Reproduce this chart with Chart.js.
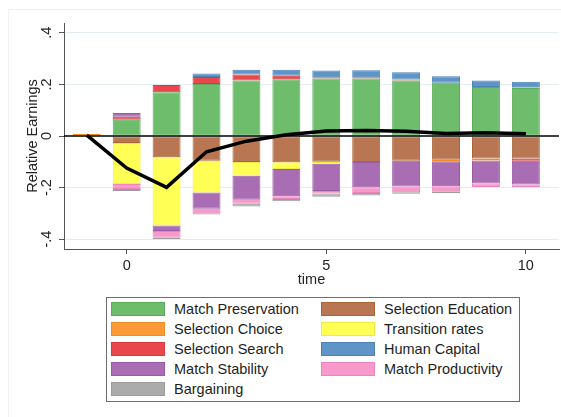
<!DOCTYPE html>
<html>
<head>
<meta charset="utf-8">
<script src="https://cdn.jsdelivr.net/npm/chart.js@4"></script>
<style>
  html, body { margin: 0; padding: 0; background: #fff; }
  #wrap { position: relative; width: 561px; height: 417px; overflow: hidden;
          font-family: "Liberation Sans", Arial, sans-serif; }
  #frame { position: absolute; left: 8px; top: 9px; width: 600px; height: 500px;
           border: 1px solid #f1f1f1; }
  #chart { position: absolute; left: 0; top: 0; }
  #legend { position: absolute; left: 106px; top: 297px; width: 414px; height: 105px;
            box-sizing: border-box; border: 1px solid #6e6e6e; background: #fff; }
  .item { position: absolute; height: 20px; line-height: 20px; font-size: 14.5px;
          color: #1e1e1e; white-space: nowrap; }
  .sw { position: absolute; left: 0; top: 3px; width: 54px; height: 14px; box-sizing: border-box;
        border: 1px solid; }
  .lbl { position: absolute; left: 63px; top: 0; }
</style>
</head>
<body>
<div id="wrap">
  <div id="frame"></div>
  <canvas id="chart" width="561" height="417"></canvas>
  <div id="legend"></div>
</div>
<script>
// Periods relative to the event
const time = [-1, 0, 1, 2, 3, 4, 5, 6, 7, 8, 9, 10];

// Decomposition components of relative earnings (one value per period)
const matchPreservation  = [0, 0.063, 0.170, 0.202, 0.215, 0.220, 0.223, 0.223, 0.215, 0.206, 0.190, 0.186];
const selectionEducation = [0.004, -0.027, -0.082, -0.096, -0.101, -0.102, -0.100, -0.101, -0.096, -0.092, -0.087, -0.087];
const selectionChoice    = [0.004, 0, 0, 0, 0, 0, 0, 0, 0, -0.006, -0.008, 0.003];
const transitionRates    = [-0.005, -0.159, -0.265, -0.123, -0.053, -0.026, -0.008, 0, 0, 0, 0, 0];
const selectionSearch    = [0, 0.012, 0.028, 0.027, 0.023, 0.014, 0.005, 0.005, 0.004, 0, 0, -0.009];
const humanCapital       = [0, 0, 0, 0.013, 0.019, 0.023, 0.026, 0.027, 0.028, 0.026, 0.025, 0.021];
const matchStability     = [0, 0.014, -0.021, -0.063, -0.093, -0.106, -0.105, -0.098, -0.100, -0.097, -0.089, -0.092];
const matchProductivity  = [0, -0.019, -0.026, -0.017, -0.016, -0.010, -0.010, -0.022, -0.022, -0.019, -0.014, -0.010];
const bargaining         = [0, -0.008, -0.006, -0.005, -0.010, -0.009, -0.012, -0.010, -0.006, -0.008, 0, 0];

// Total relative earnings
const relativeEarnings = [0.003, -0.124, -0.199, -0.061, -0.020, 0.005, 0.019, 0.021, 0.018, 0.010, 0.013, 0.009];

// Axis ticks
const xTicks = [0, 5, 10];
const yTicks = [-0.4, -0.2, 0, 0.2, 0.4];
const yTickLabels = ['-.4', '-.2', '0', '.2', '.4'];

const components = [
  { label: 'Match Preservation',  values: matchPreservation,  fill: '#6dbd6d', edge: '#5aac5a' },
  { label: 'Selection Education', values: selectionEducation, fill: '#b87752', edge: '#ad6535' },
  { label: 'Selection Choice',    values: selectionChoice,    fill: '#fd9a38', edge: '#f08a22' },
  { label: 'Transition rates',    values: transitionRates,    fill: '#ffff55', edge: '#eeea48' },
  { label: 'Selection Search',    values: selectionSearch,    fill: '#e8474b', edge: '#d93a3e' },
  { label: 'Human Capital',       values: humanCapital,       fill: '#5e94c6', edge: '#4c82b6' },
  { label: 'Match Stability',     values: matchStability,     fill: '#a96db3', edge: '#9a5ba6' },
  { label: 'Match Productivity',  values: matchProductivity,  fill: '#f899cc', edge: '#ee84bd' },
  { label: 'Bargaining',          values: bargaining,         fill: '#ababab', edge: '#9c9c9c' }
];

const FONT = { family: '"Liberation Sans", Arial, sans-serif', size: 14.5 };
const INK = '#222';
const AXIS = '#555';

const barSets = components.map(c => ({
  type: 'bar',
  label: c.label,
  data: time.map((t, i) => ({ x: t, y: c.values[i] })),
  backgroundColor: c.fill,
  borderColor: c.edge,
  borderWidth: ctx => (ctx.raw && ctx.raw.y) ? 1 : 0,
  borderSkipped: false,
  barPercentage: 0.7,
  categoryPercentage: 1,
  order: 1
}));

const lineSet = {
  type: 'line',
  label: 'Relative Earnings',
  data: time.map((t, i) => ({ x: t, y: relativeEarnings[i] })),
  borderColor: '#000',
  borderWidth: 3.5,
  pointRadius: 0,
  tension: 0,
  stack: 'total',
  order: 0
};

// Horizontal reference line at zero, drawn over the bars
const zeroLine = {
  id: 'zeroLine',
  afterDatasetsDraw(chart) {
    const { ctx, chartArea } = chart;
    const y = chart.scales.y.getPixelForValue(0);
    ctx.save();
    ctx.strokeStyle = '#000';
    ctx.lineWidth = 1.5;
    ctx.beginPath();
    ctx.moveTo(chartArea.left, y);
    ctx.lineTo(chartArea.right, y);
    ctx.stroke();
    ctx.restore();
  }
};

const chart = new Chart(document.getElementById('chart'), {
  data: { datasets: [...barSets, lineSet] },
  options: {
    responsive: false,
    animation: false,
    devicePixelRatio: 1,
    layout: { padding: { left: 0, top: 23, right: 2, bottom: 128 } },
    plugins: { legend: { display: false }, tooltip: { enabled: false } },
    scales: {
      x: {
        type: 'linear',
        stacked: true,
        offset: false,
        min: -1.57,
        max: 10.83,
        afterBuildTicks: s => { s.ticks = xTicks.map(v => ({ value: v })); },
        afterFit: s => { s.height = 40; },
        grid: { offset: false, drawOnChartArea: false, drawTicks: true, tickLength: 5, tickColor: AXIS },
        border: { display: true, color: AXIS, width: 1 },
        ticks: { font: FONT, color: INK, padding: 3, maxRotation: 0, autoSkip: false },
        title: { display: true, text: 'time', font: FONT, color: INK, padding: { top: 0, bottom: 0 } }
      },
      y: {
        type: 'linear',
        stacked: true,
        min: -0.438,
        max: 0.438,
        afterBuildTicks: s => { s.ticks = yTicks.map(v => ({ value: v })); },
        afterFit: s => { s.width = 64; },
        grid: {
          drawOnChartArea: true,
          drawTicks: true,
          tickLength: 5,
          tickColor: AXIS,
          color: c => (c.tick && c.tick.value === 0) ? 'rgba(0,0,0,0)' : '#e6edf0',
          lineWidth: 1
        },
        border: { display: true, color: AXIS, width: 1 },
        ticks: {
          font: FONT,
          color: INK,
          padding: 3.5,
          minRotation: 90,
          maxRotation: 90,
          crossAlign: 'center',
          autoSkip: false,
          callback: v => {
            const k = yTicks.findIndex(t => Math.abs(t - v) < 1e-9);
            return k >= 0 ? yTickLabels[k] : '';
          }
        },
        title: { display: true, text: 'Relative Earnings', font: FONT, color: INK, padding: { top: 24, bottom: 0 } }
      }
    }
  },
  plugins: [zeroLine]
});

// Two-column legend built from the bar datasets
const legend = document.getElementById('legend');
barSets.forEach((ds, i) => {
  const row = Math.floor(i / 2), col = i % 2;
  const item = document.createElement('div');
  item.className = 'item';
  item.style.left = (col === 0 ? 4 : 214) + 'px';
  item.style.top = (1 + row * 20) + 'px';
  const sw = document.createElement('div');
  sw.className = 'sw';
  sw.style.background = ds.backgroundColor;
  sw.style.borderColor = ds.borderColor;
  const lbl = document.createElement('span');
  lbl.className = 'lbl';
  lbl.textContent = ds.label;
  item.appendChild(sw);
  item.appendChild(lbl);
  legend.appendChild(item);
});
</script>
</body>
</html>
